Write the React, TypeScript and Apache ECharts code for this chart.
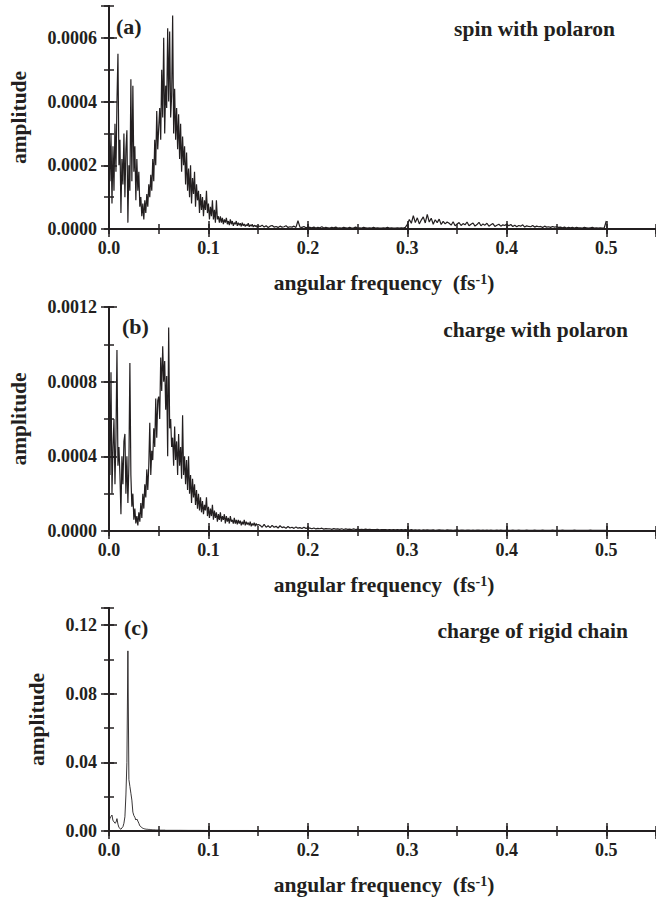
import React, { useEffect, useRef } from "react";
import * as echarts from "echarts";

// ---------- data ----------
// panel (a): spin with polaron, amplitude in units of 1e-5
const SPIN_UNIT = 1e-5;
const spinLowStart = 0.0;
const spinLowStep = 0.001;
const spinLow = [
  37, 15, 30, 8, 26, 12, 33, 18, 40, 55,
  20, 28, 5, 22, 14, 30, 10, 25, 31, 2,
  20, 12, 47, 15, 45, 18, 26, 9, 22, 12,
  18, 7, 10, 4, 8, 3, 9, 5, 11, 7,
  14, 10, 17, 12, 22, 15, 28, 20, 37, 25,
  32, 38, 28, 50, 35, 60, 30, 45, 38, 63,
  40, 62, 35, 42, 67, 30, 44, 28, 38, 25,
  36, 22, 33, 18, 29, 20, 26, 14, 24, 12,
  19, 10, 20, 8, 16, 11, 18, 7, 14, 9,
  12, 5, 11, 6, 10, 4, 9, 6, 12, 5,
  8, 3, 7, 4, 9, 3, 6, 2, 9, 3,
  4, 2, 4, 2, 3.5, 1.5, 3, 2, 3.5, 1.5,
  2.5, 1.2, 3, 1.5, 2.5, 1, 2, 1.5, 2.5, 1,
  2, 1.2, 1.8, 0.8, 2, 1, 1.6, 0.8, 1.4, 1,
  1.8, 0.7, 1.3, 0.9, 1.5, 0.6, 1.2, 0.8, 1.1, 0.5,
  1,
];
const spinHighStart = 0.152;
const spinHighStep = 0.002;
const spinHigh = [
  0.8, 1.2, 0.6, 1.0, 0.5, 0.9, 1.1, 0.6, 0.8, 0.5,
  0.9, 0.6, 0.7, 1.0, 0.5, 0.7, 0.6, 0.9, 0.5, 2.6,
  0.6, 0.5, 0.8, 0.4, 0.6,
  0.5, 0.4, 0.6, 0.3, 0.5, 0.4, 0.7, 0.3, 0.5, 0.4,
  0.3, 0.5, 0.4, 0.6, 0.3, 0.4, 0.3, 0.5, 0.4, 0.3,
  0.5, 0.3, 0.4, 0.6, 0.3, 0.4, 0.3, 0.5, 0.4, 0.3,
  0.4, 0.3, 0.5, 0.3, 0.4, 0.3, 0.3, 0.4, 0.3, 0.5,
  0.3, 0.4, 0.3, 0.3, 0.4, 0.3, 0.4, 0.3, 0.5,
  1.5, 3.0, 1.8, 4.2, 2.0, 3.5, 1.6, 2.8, 3.8, 1.9,
  4.6, 2.2, 3.4, 1.5, 2.9, 2.0, 3.1, 1.4, 2.4, 1.6, 2.2,
  1.8, 1.2, 2.3, 1.0, 1.6, 2.0, 1.1, 1.7, 1.3, 2.2,
  1.0, 1.5, 1.9, 0.9, 1.4, 2.1, 1.0, 1.6, 1.2, 1.8,
  0.9, 1.3, 1.7, 0.8, 1.2, 1.5, 0.9, 1.3, 1.1, 1.6,
  1.0, 1.4, 0.8, 1.2, 0.7, 1.1, 0.9, 1.3, 0.6, 1.0,
  0.8, 0.7, 1.1, 0.6, 0.9, 0.7, 0.8, 0.5, 0.9, 0.6,
  0.7, 0.5, 0.8, 0.6, 0.7,
  0.5, 0.6, 0.4, 0.6, 0.3, 0.5, 0.4, 0.5, 0.3, 0.5,
  0.4, 0.4, 0.3, 0.5, 0.4, 0.3, 0.4, 0.5, 0.3, 0.4,
  0.3, 0.4, 0.3, 0.4,
  2.5,
];

// panel (b): charge with polaron, amplitude in units of 1e-5
const CHARGE_UNIT = 1e-5;
const chargeLowStart = 0.0;
const chargeLowStep = 0.001;
const chargeLow = [
  100, 30, 85, 20, 45, 60, 25, 50, 97, 35,
  45, 30, 9, 40, 25, 48, 52, 20, 40, 15,
  35, 90, 30, 13, 20, 6, 12, 4, 8, 3,
  10, 5, 15, 7, 20, 12, 25, 18, 33, 22,
  35, 58, 30, 43, 38, 55, 45, 71, 50, 70,
  72, 60, 93, 75, 99, 80, 91, 65, 83, 40,
  109, 55, 60, 45, 50, 35, 56, 38, 48, 30,
  52, 35, 45, 28, 62, 30, 40, 25, 38, 22,
  40, 20, 30, 15, 28, 18, 25, 14, 22, 12,
  20, 11, 18, 10, 16, 9, 14, 11, 18, 8,
  13, 7, 12, 8, 14, 6, 11, 7, 10, 5,
  9, 6, 10, 5, 8, 6, 9, 4, 8, 5,
  7, 4, 8, 5, 6, 4, 7, 4, 6, 3.5,
  6, 4, 5.5, 3, 5, 3.5, 6, 3, 5, 3.5,
  4.5, 3, 5, 2.5, 4, 3, 4.5, 2.5, 4, 3,
  3.5,
];
const chargeHighStart = 0.152;
const chargeHighStep = 0.002;
const chargeHigh = [
  3, 2, 3.5, 2, 2.8, 1.8, 3, 2, 2.5, 1.6,
  2.8, 1.8, 2.2, 1.5, 2.4, 1.6, 2, 1.4, 2.2, 1.5,
  1.8, 1.3, 2, 1.4, 1.7,
  1.5, 1.2, 1.6, 1.1, 1.4, 1.2, 1.5, 1, 1.3, 1.1,
  1.2, 0.9, 1.3, 1, 1.1, 0.9, 1.2, 0.8, 1.1, 0.9,
  1, 0.8, 1.1, 0.8, 1, 0.7, 0.9, 0.8, 1, 0.7,
  0.9, 0.7, 0.8, 0.7, 0.9, 0.6, 0.8, 0.7, 0.8, 0.6,
  0.8, 0.6, 0.7, 0.6, 0.8, 0.6, 0.7, 0.6, 0.7,
  0.6, 0.5, 0.7, 0.5, 0.6, 0.5, 0.6, 0.4, 0.6, 0.5,
  0.6, 0.5, 0.5, 0.6, 0.4, 0.5, 0.6, 0.5, 0.5, 0.4,
  0.6, 0.5, 0.5, 0.4, 0.5, 0.6, 0.4, 0.5, 0.5, 0.4,
  0.5, 0.5, 0.4, 0.5, 0.4, 0.5, 0.5, 0.4, 0.5, 0.4,
  0.5, 0.4, 0.5, 0.4, 0.4, 0.5, 0.4, 0.5, 0.4, 0.4,
  0.5, 0.4, 0.4, 0.5, 0.4, 0.4, 0.5, 0.4, 0.4, 0.4,
  0.5, 0.4, 0.4, 0.4, 0.5, 0.4, 0.4, 0.4, 0.5, 0.4,
  0.4, 0.4, 0.4, 0.5, 0.4, 0.4, 0.4, 0.4, 0.5, 0.4,
  0.4, 0.4, 0.4, 0.4, 0.5, 0.4, 0.4, 0.4, 0.4, 0.4,
  0.4, 0.4, 0.5, 0.4, 0.4, 0.4, 0.4, 0.4, 0.4, 0.4,
  0.4,
];

// panel (c): charge of rigid chain, amplitude in units of 1e-3
const RIGID_UNIT = 1e-3;
const rigidLowStart = 0.0;
const rigidLowStep = 0.001;
const rigidLow = [
  5.4, 7.5, 8.5, 9.3, 6.0, 5.5, 4.5, 5.0, 7.2, 4.0,
  2.0, 1.5, 1.0, 1.8, 2.5, 4.5, 8.3, 21, 40, 105,
  30, 26, 22, 18, 11, 9, 8, 6.4, 7, 5.8,
  4.5, 3, 2.5, 2, 1.6, 1.4, 1.2, 1.1, 1.0, 1.0,
  0.9, 0.9, 0.8, 0.8, 0.7, 0.7, 0.7, 0.6, 0.6, 0.6,
  0.6, 0.5, 0.5, 0.5, 0.5, 0.5, 0.5, 0.4, 0.4, 0.4,
  0.4,
];
const rigidHighStart = 0.07;
const rigidHighStep = 0.01;
const rigidHigh = [
  0.4, 0.35, 0.35, 0.3, 0.3, 0.3, 0.3, 0.3, 0.25, 0.25,
  0.25, 0.25, 0.25, 0.2, 0.2, 0.2, 0.2, 0.2, 0.2, 0.2,
  0.2, 0.2, 0.2, 0.2, 0.2, 0.2, 0.2, 0.2, 0.2, 0.2,
  0.2, 0.2, 0.2, 0.2, 0.2, 0.2, 0.2, 0.2, 0.2, 0.2,
  0.2, 0.2, 0.2, 0.2,
];

// axes / labels
const X_MAX = 0.55;
const X_MAJOR = 0.1;
const X_MINOR = 0.05;
const yMaxes = [0.0007, 0.0012, 0.13];
const yMajors = [0.0002, 0.0004, 0.04];
const yMinors = [0.0001, 0.0002, 0.02];
const yDecimals = [4, 4, 2];
const yShowMax = [false, true, false];
const panelTags = ["(a)", "(b)", "(c)"];
const panelTitles = ["spin with polaron", "charge with polaron", "charge of rigid chain"];
const xTitle = "angular frequency  (fs";
const xTitleSup = "-1";
const yTitle = "amplitude";

// ---------- layout ----------
const FONT = '"Liberation Serif", "Times New Roman", Times, serif';
const INK = "#231f20";
const GRID_LEFT = 109;
const GRID_RIGHT = -3;
const gridTops = [6, 307, 608];
const gridHeights = [223, 224, 223];
const tagX = [116, 122, 124];
const tagDy = [20, 19, 19];
const titleRight = [615, 628, 628];
const yTitleX = [19, 19, 37];
const lineWidths = [1.2, 1.2, 0.9];
const TITLE_SIZE = 21.5;

function toSeries(low: number[], lowStart: number, lowStep: number,
                  high: number[], highStart: number, highStep: number, unit: number) {
  const pts: number[][] = [];
  low.forEach((v, i) => pts.push([+(lowStart + i * lowStep).toFixed(4), v * unit]));
  high.forEach((v, i) => pts.push([+(highStart + i * highStep).toFixed(4), v * unit]));
  return pts;
}

const seriesData = [
  toSeries(spinLow, spinLowStart, spinLowStep, spinHigh, spinHighStart, spinHighStep, SPIN_UNIT),
  toSeries(chargeLow, chargeLowStart, chargeLowStep, chargeHigh, chargeHighStart, chargeHighStep, CHARGE_UNIT),
  toSeries(rigidLow, rigidLowStart, rigidLowStep, rigidHigh, rigidHighStart, rigidHighStep, RIGID_UNIT),
];

function buildOption() {
  const grid: any[] = [];
  const xAxis: any[] = [];
  const yAxis: any[] = [];
  const series: any[] = [];
  const graphic: any[] = [];
  const tickLine = { color: INK, width: 1.5 };
  const frameLine = { show: true, lineStyle: { color: INK, width: 2 } };

  for (let i = 0; i < 3; i++) {
    grid.push({ left: GRID_LEFT, right: GRID_RIGHT, top: gridTops[i], height: gridHeights[i], containLabel: false });
    const xBase = { type: "value", gridIndex: i, min: 0, max: X_MAX, splitLine: { show: false } };
    xAxis.push({
      ...xBase, position: "bottom", interval: X_MAJOR,
      axisLine: frameLine,
      axisTick: { inside: true, length: 8, lineStyle: tickLine },
      axisLabel: {
        show: true, margin: 10, showMaxLabel: false, showMinLabel: true,
        formatter: (v: number) => v.toFixed(1),
        fontFamily: FONT, fontSize: 18, fontWeight: "bold", color: INK,
      },
    });
    xAxis.push({
      ...xBase, position: "bottom", interval: X_MINOR,
      axisLine: { show: false },
      axisTick: { inside: true, length: 5, lineStyle: tickLine },
      axisLabel: { show: false },
    });
    xAxis.push({
      ...xBase, position: "top", interval: X_MAJOR,
      axisLine: frameLine,
      axisTick: { inside: true, length: 8, lineStyle: tickLine },
      axisLabel: { show: false },
    });
    xAxis.push({
      ...xBase, position: "top", interval: X_MINOR,
      axisLine: { show: false },
      axisTick: { inside: true, length: 5, lineStyle: tickLine },
      axisLabel: { show: false },
    });

    const yBase = { type: "value", gridIndex: i, min: 0, max: yMaxes[i], splitLine: { show: false } };
    const dec = yDecimals[i];
    yAxis.push({
      ...yBase, position: "left", interval: yMajors[i],
      axisLine: frameLine,
      axisTick: { inside: true, length: 8, lineStyle: tickLine },
      axisLabel: {
        show: true, margin: 12, showMaxLabel: yShowMax[i], showMinLabel: true,
        formatter: (v: number) => v.toFixed(dec),
        fontFamily: FONT, fontSize: 18, fontWeight: "bold", color: INK,
      },
    });
    yAxis.push({
      ...yBase, position: "left", interval: yMinors[i],
      axisLine: { show: false },
      axisTick: { inside: true, length: 5, lineStyle: tickLine },
      axisLabel: { show: false },
    });
    yAxis.push({
      ...yBase, position: "right", interval: yMajors[i],
      axisLine: frameLine,
      axisTick: { inside: true, length: 8, lineStyle: tickLine },
      axisLabel: { show: false },
    });
    yAxis.push({
      ...yBase, position: "right", interval: yMinors[i],
      axisLine: { show: false },
      axisTick: { inside: true, length: 5, lineStyle: tickLine },
      axisLabel: { show: false },
    });

    series.push({
      type: "line",
      xAxisIndex: i * 4,
      yAxisIndex: i * 4,
      data: seriesData[i],
      symbol: "none",
      showSymbol: false,
      silent: true,
      clip: true,
      lineStyle: { color: INK, width: lineWidths[i] },
    });

    const top = gridTops[i];
    const bottom = top + gridHeights[i];
    graphic.push({
      type: "text", x: tagX[i], y: top + tagDy[i], silent: true,
      style: {
        text: panelTags[i], fontFamily: FONT, fontSize: 22, fontWeight: "bold",
        fill: INK, align: "left", verticalAlign: "middle",
      },
    });
    graphic.push({
      type: "text", x: titleRight[i], y: top + 23, silent: true,
      style: {
        text: panelTitles[i], fontFamily: FONT, fontSize: TITLE_SIZE, fontWeight: "bold",
        fill: INK, align: "right", verticalAlign: "middle",
      },
    });
    graphic.push({
      type: "text", x: yTitleX[i], y: top + gridHeights[i] / 2, rotation: Math.PI / 2, silent: true,
      style: {
        text: yTitle, fontFamily: FONT, fontSize: TITLE_SIZE, fontWeight: "bold",
        fill: INK, align: "center", verticalAlign: "middle",
      },
    });
    graphic.push({
      type: "text", x: 384, y: bottom + 54, silent: true,
      style: {
        text: "{n|" + xTitle + "}{s|" + xTitleSup + "}{n|)}",
        align: "center", verticalAlign: "middle",
        fontFamily: FONT, fontSize: TITLE_SIZE, fontWeight: "bold", fill: INK,
        rich: {
          n: { fontFamily: FONT, fontSize: TITLE_SIZE, fontWeight: "bold", fill: INK, color: INK, verticalAlign: "bottom" },
          s: { fontFamily: FONT, fontSize: 14, fontWeight: "bold", fill: INK, color: INK, verticalAlign: "top" },
        },
      },
    });
  }

  return {
    animation: false,
    backgroundColor: "#ffffff",
    textStyle: { fontFamily: FONT },
    grid, xAxis, yAxis, series, graphic,
  };
}

export default function App() {
  const ref = useRef<HTMLDivElement>(null);
  useEffect(() => {
    if (!ref.current) return;
    const chart = echarts.init(ref.current, null, { renderer: "svg", width: 656, height: 900 });
    chart.setOption(buildOption() as any);
    return () => chart.dispose();
  }, []);
  return (
    <div
      ref={ref}
      style={{ position: "fixed", left: 0, top: 0, width: 656, height: 900, background: "#fff" }}
    />
  );
}
